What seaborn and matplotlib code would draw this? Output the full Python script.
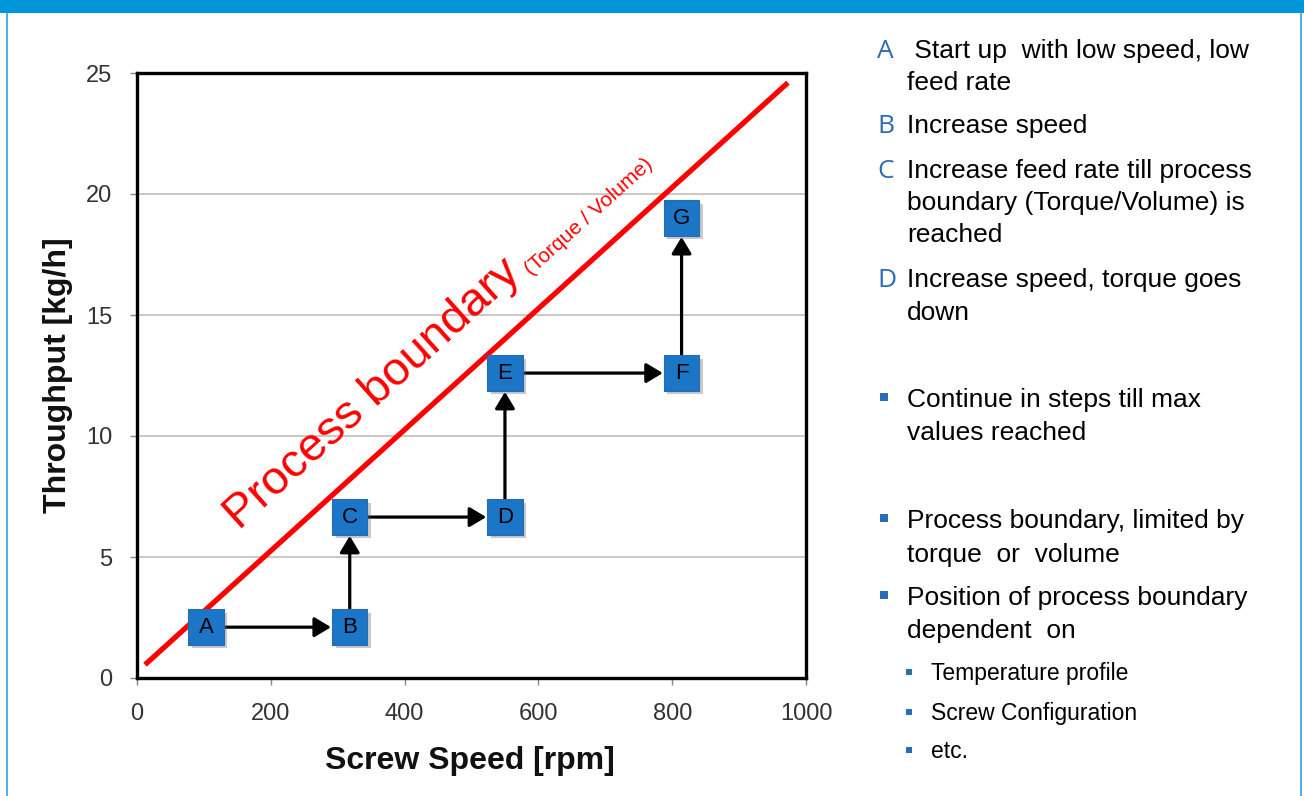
import matplotlib
matplotlib.use("Agg")
import matplotlib.pyplot as plt
import seaborn as sns
import pandas as pd
from matplotlib import patheffects as pe
from matplotlib.lines import Line2D
from matplotlib.patches import Rectangle

# ---------------- data ----------------
step_labels = ["A", "B", "C", "D", "E", "F", "G"]
screw_speed = [103, 318, 318, 550, 550, 814, 814]
throughput = [2.1, 2.1, 6.65, 6.65, 12.6, 12.6, 19.0]

boundary_speed = [12, 973]
boundary_throughput = [0.55, 24.6]

x_ticks = [0, 200, 400, 600, 800, 1000]
y_ticks = [0, 5, 10, 15, 20, 25]

x_label = "Screw Speed [rpm]"
y_label = "Throughput [kg/h]"
boundary_title = "Process boundary"
boundary_sub = "(Torque / Volume)"

# right-hand text panel: (marker, text, baseline px)
step_notes = [
    ("A", " Start up  with low speed, low", 58),
    ("", "feed rate", 90),
    ("B", "Increase speed", 133),
    ("C", "Increase feed rate till process", 178),
    ("", "boundary (Torque/Volume) is", 210),
    ("", "reached", 242),
    ("D", "Increase speed, torque goes", 287),
    ("", "down", 320),
]
bullet_notes = [
    (True, "Continue in steps till max", 407),
    (False, "values reached", 440),
    (True, "Process boundary, limited by", 528),
    (False, "torque  or  volume", 562),
    (True, "Position of process boundary", 605),
    (False, "dependent  on", 638),
]
sub_notes = [
    ("Temperature profile", 680),
    ("Screw Configuration", 720),
    ("etc.", 758),
]

# ---------------- style ----------------
sns.set_theme(style="white")
plt.rcParams["font.family"] = ["Liberation Sans", "DejaVu Sans"]

W, H = 1304, 796
fig = plt.figure(figsize=(W / 100, H / 100), dpi=100)
fig.patch.set_facecolor("white")


def fx(px):
    return px / W


def fy(py):
    return 1 - py / H


# top banner and frame lines
fig.add_artist(Rectangle((0, fy(13)), 1, 13 / H, transform=fig.transFigure,
                         facecolor="#0096D8", edgecolor="none"))
for xp in (6.5, 1300.5):
    fig.add_artist(Line2D([fx(xp), fx(xp)], [0, fy(13)], transform=fig.transFigure,
                          color="#2AA6E2", lw=1.2))

ax = fig.add_axes([fx(137), fy(678), fx(806) - fx(137), fy(73) - fy(678)])

df = pd.DataFrame({"speed": screw_speed, "throughput": throughput, "step": step_labels})
bdf = pd.DataFrame({"speed": boundary_speed, "throughput": boundary_throughput})

# boundary line
sns.lineplot(data=bdf, x="speed", y="throughput", color="#FF0000", lw=3.8,
             ax=ax, zorder=2, solid_capstyle="butt")

# arrows between steps
for i in range(len(screw_speed) - 1):
    ax.annotate("", xy=(screw_speed[i + 1], throughput[i + 1]),
                xytext=(screw_speed[i], throughput[i]),
                arrowprops=dict(arrowstyle="-|>,head_length=0.5,head_width=0.3",
                                mutation_scale=20, lw=2.3, color="black",
                                shrinkA=13, shrinkB=13.5),
                zorder=3)

# step boxes
sns.scatterplot(data=df, x="speed", y="throughput", marker="s", s=650,
                color="#1B76C8", edgecolor="#2C6BAA", linewidth=0.8,
                ax=ax, zorder=4, legend=False)
ax.collections[-1].set_path_effects([
    pe.SimplePatchShadow(offset=(2.5, -2.5), shadow_rgbFace="#666666", alpha=0.35),
    pe.Normal()])
for xv, yv, lab in zip(screw_speed, throughput, step_labels):
    ax.text(xv, yv, lab, ha="center", va="center", fontsize=16, color="black", zorder=5)

# boundary annotation
ax.text(153, 6.1, boundary_title, rotation=42, rotation_mode="anchor",
        ha="left", va="baseline", color="#FF0000", fontsize=34, zorder=2)
ax.text(590, 16.6, boundary_sub, rotation=42, rotation_mode="anchor",
        ha="left", va="baseline", color="#FF0000", fontsize=15, zorder=2)

# axes styling
ax.set_xlim(0, 1000)
ax.set_ylim(0, 25)
ax.set_xticks(x_ticks)
ax.set_yticks(y_ticks)
ax.yaxis.grid(True, color="#C4C4C4", lw=1.3)
ax.xaxis.grid(False)
ax.set_axisbelow(True)
for sp in ax.spines.values():
    sp.set_visible(True)
    sp.set_color("black")
    sp.set_linewidth(2.4)
    sp.set_path_effects([pe.SimplePatchShadow(offset=(1.5, -1.5), alpha=0.3), pe.Normal()])
ax.tick_params(axis="both", bottom=True, left=True, direction="out", length=5,
               width=1, color="#888888", labelsize=17, labelcolor="#333333")
ax.tick_params(axis="x", pad=13)
ax.tick_params(axis="y", pad=13)

ax.set_xlabel(x_label, fontsize=23, fontweight="bold", color="#111111")
ax.set_ylabel(y_label, fontsize=23, fontweight="bold", color="#111111")
ax.xaxis.set_label_coords((470 - 137) / 669, -(761 - 678) / 605)
ax.xaxis.label.set_va("center")
ax.yaxis.set_label_coords((58 - 137) / 669, (678 - 375) / 605)
ax.yaxis.label.set_va("center")

# right text panel
blue = "#2B6DB3"
for mark, txt, base in step_notes:
    if mark:
        fig.text(fx(877), fy(base), mark, color=blue, fontsize=19,
                 family=["Open Sans", "DejaVu Sans"], ha="left", va="baseline")
    fig.text(fx(907), fy(base), txt, color="black", fontsize=19,
             ha="left", va="baseline")

for has_bullet, txt, base in bullet_notes:
    if has_bullet:
        fig.add_artist(Rectangle((fx(880), fy(base - 6)), 8 / W, 8 / H,
                                 transform=fig.transFigure, facecolor=blue,
                                 edgecolor="none"))
    fig.text(fx(907), fy(base), txt, color="black", fontsize=19,
             ha="left", va="baseline")

for txt, base in sub_notes:
    fig.add_artist(Rectangle((fx(906), fy(base - 5)), 6 / W, 6 / H,
                             transform=fig.transFigure, facecolor=blue,
                             edgecolor="none"))
    fig.text(fx(931), fy(base), txt, color="black", fontsize=16.5,
             ha="left", va="baseline")

fig.savefig("out.png", dpi=100)
